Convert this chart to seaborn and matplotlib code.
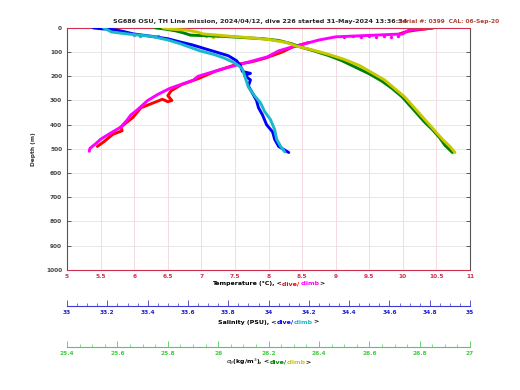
import numpy as np
import pandas as pd
import matplotlib
matplotlib.use('Agg')
import matplotlib.pyplot as plt
import seaborn as sns
from matplotlib.offsetbox import TextArea, HPacker, AnnotationBbox
from matplotlib.ticker import MultipleLocator

# temperature, dive (red): surface piece and deeper piece; climb (magenta)
temp_dive_top_depth = [0, 4, 9, 14, 20, 25]
temp_dive_top = [10.45, 10.35, 10.2, 10.08, 10.0, 9.95]
temp_dive_depth = [60, 80, 100, 125, 140, 153, 180, 210, 235, 260, 280, 300, 305, 295, 330, 370, 410, 425, 440, 470, 490]
temp_dive = [8.6, 8.35, 8.2, 7.95, 7.75, 7.5, 7.2, 6.95, 6.7, 6.55, 6.5, 6.56, 6.5, 6.42, 6.1, 5.98, 5.8, 5.82, 5.68, 5.55, 5.45]
temp_climb_depth = [0, 3, 8, 15, 25, 37, 50, 65, 78, 95, 120, 140, 153, 175, 200, 216, 250, 275, 300, 340, 360, 382, 410, 436, 460, 480, 498, 510]
temp_climb = [10.45, 10.35, 10.1, 10.05, 10.0, 9.0, 8.75, 8.55, 8.36, 8.15, 7.98, 7.72, 7.53, 7.25, 6.95, 6.88, 6.53, 6.35, 6.2, 6.04, 5.95, 5.89, 5.8, 5.64, 5.5, 5.42, 5.34, 5.33]
temp_dots_depth = [36, 35, 37, 34, 36, 35, 36, 34]
temp_dots = [9.12, 9.25, 9.38, 9.5, 9.6, 9.72, 9.83, 9.92]

# salinity, dive (blue) and climb (cyan)
sal_dive_depth = [0, 3, 8, 15, 25, 35, 45, 58, 70, 85, 100, 115, 135, 155, 180, 188, 196, 215, 240, 270, 300, 330, 360, 400, 430, 460, 490, 515]
sal_dive = [33.13, 33.16, 33.24, 33.28, 33.33, 33.42, 33.5, 33.56, 33.62, 33.68, 33.74, 33.8, 33.84, 33.86, 33.87, 33.91, 33.88, 33.91, 33.9, 33.92, 33.94, 33.95, 33.97, 33.99, 34.02, 34.03, 34.05, 34.1]
sal_climb_depth = [0, 8, 17, 25, 35, 50, 65, 80, 95, 110, 125, 140, 155, 170, 195, 220, 245, 280, 310, 345, 380, 420, 460, 490, 512]
sal_climb = [33.18, 33.2, 33.22, 33.3, 33.42, 33.5, 33.56, 33.61, 33.66, 33.73, 33.78, 33.82, 33.85, 33.87, 33.88, 33.89, 33.9, 33.93, 33.96, 33.98, 34.01, 34.03, 34.04, 34.06, 34.08]
sal_dots_depth = [30, 31, 33, 35, 32]
sal_dots = [33.33, 33.38, 33.42, 33.45, 33.36]

# sigma-theta, dive (green) and climb (yellow)
sig_dive_depth = [0, 5, 12, 20, 30, 35, 40, 45, 52, 65, 80, 95, 115, 135, 160, 190, 220, 250, 285, 320, 355, 390, 420, 455, 485, 515]
sig_dive = [25.75, 25.79, 25.83, 25.86, 25.89, 26.02, 26.1, 26.18, 26.24, 26.29, 26.33, 26.38, 26.44, 26.49, 26.54, 26.6, 26.65, 26.69, 26.73, 26.76, 26.79, 26.82, 26.85, 26.88, 26.9, 26.93]
sig_climb_depth = [0, 5, 10, 18, 25, 30, 35, 40, 48, 60, 75, 90, 110, 130, 155, 185, 215, 250, 285, 320, 355, 390, 425, 460, 490, 515]
sig_climb = [25.78, 25.81, 25.88, 25.92, 25.94, 26.0, 26.05, 26.12, 26.2, 26.27, 26.31, 26.37, 26.44, 26.5, 26.56, 26.61, 26.66, 26.7, 26.74, 26.77, 26.8, 26.83, 26.86, 26.89, 26.92, 26.94]
sig_dots_depth = [33, 35, 34, 36, 33]
sig_dots = [25.95, 26.0, 26.04, 25.98, 26.06]

title = 'SG686 OSU, TH Line mission, 2024/04/12, dive 226 started 31-May-2024 13:36:34'
serial = 'Serial #: 0399  CAL: 06-Sep-20'

sns.set_style('white')
plt.rcParams['font.family'] = ['DejaVu Sans']
FS = 4.2
bold = dict(fontsize=FS, fontweight='bold')

fig = plt.figure(figsize=(5.2, 3.9), dpi=100)
ax = fig.add_axes([0.129, 0.308, 0.775, 0.6205])
ax_s = ax.twiny()
ax_d = ax.twiny()


def draw(axis, xs, ys, color):
    df = pd.DataFrame({'x': xs, 'depth': ys})
    sns.lineplot(data=df, x='x', y='depth', ax=axis, sort=False, estimator=None,
                 color=color, linewidth=2.1)


draw(ax, temp_dive_top, temp_dive_top_depth, '#ff0000')
draw(ax, temp_dive, temp_dive_depth, '#ff0000')
draw(ax, temp_climb, temp_climb_depth, '#ff00ff')
sns.scatterplot(x=temp_dots, y=temp_dots_depth, ax=ax, color='#ff00ff', s=6, linewidth=0)
draw(ax_s, sal_dive, sal_dive_depth, '#0000ff')
draw(ax_s, sal_climb, sal_climb_depth, '#1ab8cc')
sns.scatterplot(x=sal_dots, y=sal_dots_depth, ax=ax_s, color='#1ab8cc', s=6, linewidth=0)
draw(ax_d, sig_dive, sig_dive_depth, '#008000')
draw(ax_d, sig_climb, sig_climb_depth, '#c8c800')
sns.scatterplot(x=sig_dots, y=sig_dots_depth, ax=ax_d, color='#c8c800', s=6, linewidth=0)

ax.set_xlim(5, 11)
ax.set_ylim(1000, 0)
ax.xaxis.set_major_locator(MultipleLocator(0.5))
ax.yaxis.set_major_locator(MultipleLocator(100))
ax.xaxis.set_major_formatter(plt.FuncFormatter(lambda v, p: f'{v:g}'))
ax.grid(True, axis='x', color='#f2d6dc', linewidth=0.6)
ax.grid(True, axis='y', color='#e4e4e4', linewidth=0.6)
ax.set_axisbelow(True)
ax.set_xlabel('')
ax.set_ylabel('Depth (m)', **bold, color='#333333', labelpad=7)
ax.tick_params(axis='x', direction='in', length=0, colors='#d03050', labelsize=FS, pad=3)
ax.tick_params(axis='y', direction='in', length=3, width=0.6, colors='#444444', labelsize=FS,
               right=True, left=True)
for lab in ax.get_xticklabels() + ax.get_yticklabels():
    lab.set_fontweight('bold')
ax.spines['bottom'].set_color('#d03050')
ax.spines['top'].set_color('#d03050')
ax.spines['left'].set_color('#555555')
ax.spines['right'].set_color('#555555')
for sp in ax.spines.values():
    sp.set_linewidth(0.8)


def setup_twin(axis, lo, hi, outward, color, tickcolor):
    axis.set_xlim(lo, hi)
    axis.set_ylim(1000, 0)
    axis.set_xlabel('')
    axis.set_ylabel('')
    axis.xaxis.set_ticks_position('bottom')
    axis.xaxis.set_label_position('bottom')
    for name in ['top', 'left', 'right']:
        axis.spines[name].set_visible(False)
    axis.spines['bottom'].set_position(('outward', outward))
    axis.spines['bottom'].set_color(color)
    axis.spines['bottom'].set_linewidth(0.8)
    axis.xaxis.set_major_locator(MultipleLocator(0.2))
    axis.xaxis.set_minor_locator(MultipleLocator(0.05))
    axis.xaxis.set_major_formatter(plt.FuncFormatter(lambda v, p: f'{v:g}'))
    axis.tick_params(axis='x', which='major', direction='in', length=4, width=0.6,
                     color=color, labelcolor=tickcolor, labelsize=FS, pad=3)
    axis.tick_params(axis='x', which='minor', direction='in', length=2, width=0.5, color=color)
    axis.tick_params(axis='y', left=False, right=False, labelleft=False, labelright=False)
    axis.grid(False)
    for lab in axis.get_xticklabels():
        lab.set_fontweight('bold')


setup_twin(ax_s, 33, 35, 36 * 0.72, '#3a3ad0', '#2020d0')
setup_twin(ax_d, 25.4, 27, 77 * 0.72, '#50d050', '#40cc40')


def color_label(y, parts):
    boxes = [TextArea(t, textprops=dict(color=c, fontsize=FS + 0.3, fontweight='bold')) for t, c in parts]
    pack = HPacker(children=boxes, align='baseline', pad=0, sep=0)
    ab = AnnotationBbox(pack, (0.516, y), xycoords='figure fraction', frameon=False,
                        box_alignment=(0.5, 0.5))
    fig.add_artist(ab)


color_label(0.272, [('Temperature (°C), <', 'black'), ('dive/ ', '#ff0000'),
                    ('climb', '#ff00ff'), ('>', 'black')])
color_label(0.174, [('Salinity (PSU), <', 'black'), ('dive/', '#0000ff'),
                    ('climb', '#1ab8cc'), ('>', 'black')])
color_label(0.072, [(r'$\sigma_\theta$(kg/m$^3$), <', 'black'), ('dive/', '#008000'),
                    ('climb', '#c8c800'), ('>', 'black')])

fig.text(0.5, 0.944, title, ha='center', va='center', fontsize=FS + 0.4, fontweight='bold')
fig.text(0.765, 0.944, serial, ha='left', va='center', fontsize=FS, fontweight='bold', color='#b04030')

fig.savefig('out.png', dpi=100)
